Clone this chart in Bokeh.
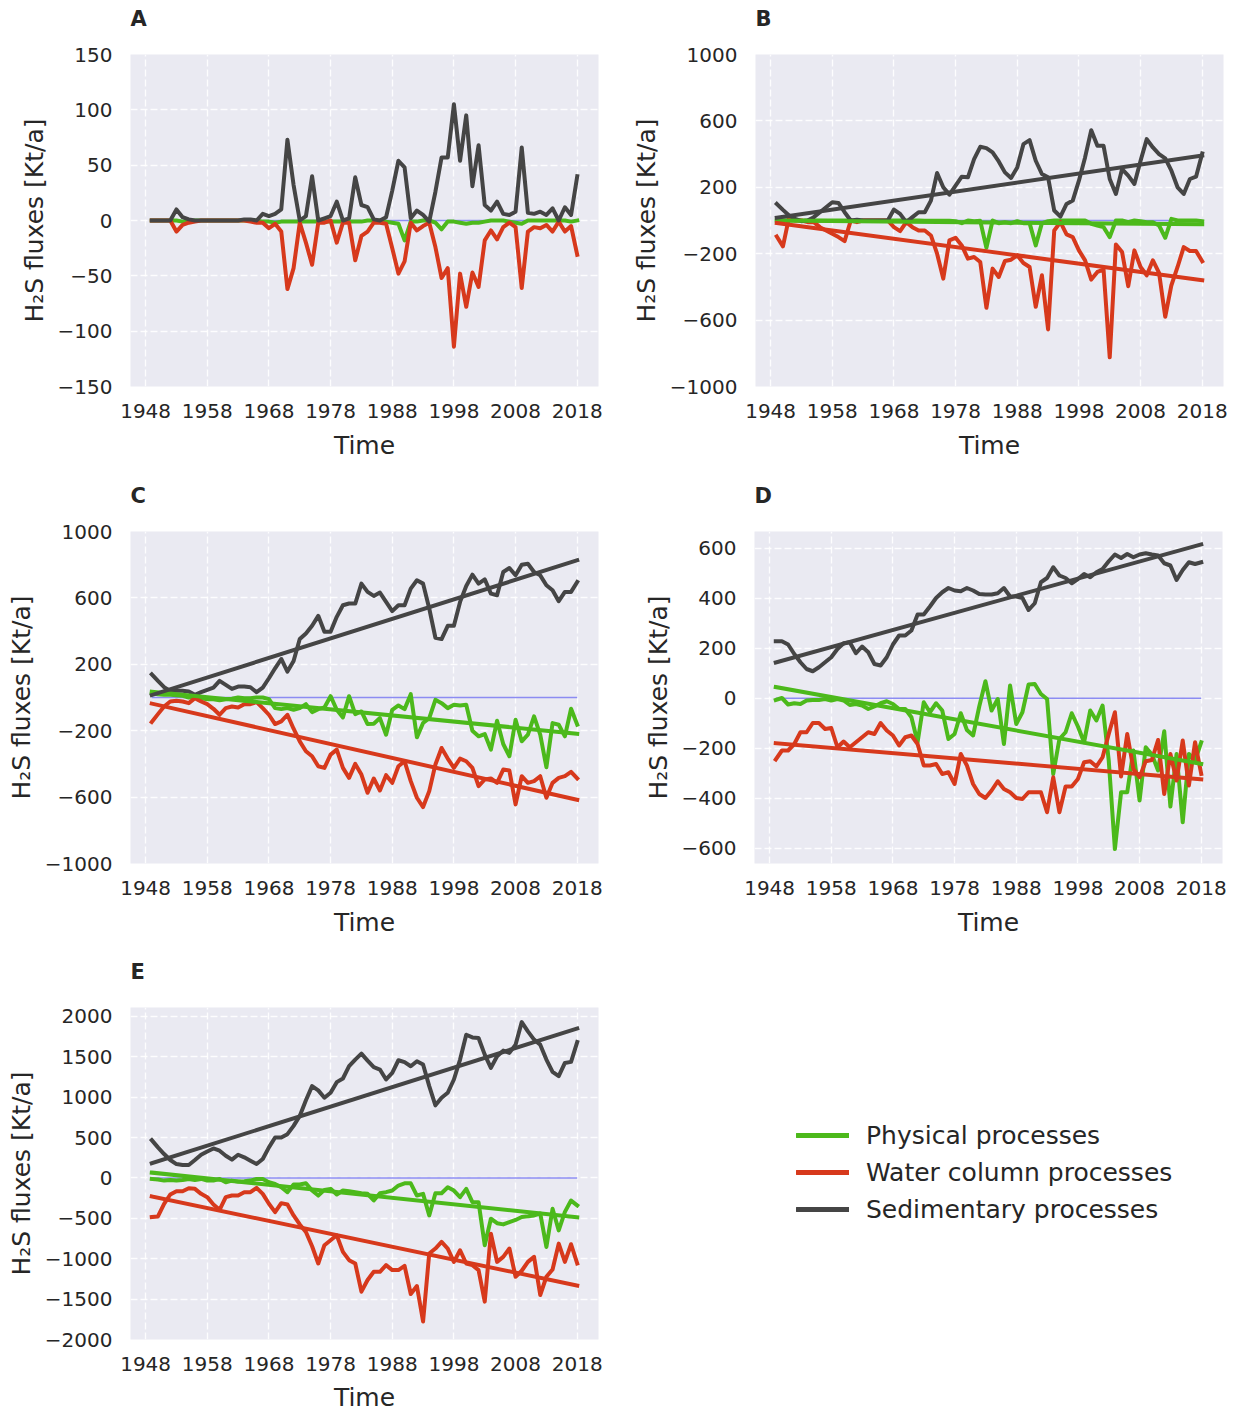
import numpy as np
from bokeh.plotting import figure
from bokeh.layouts import column, row
from bokeh.models import FixedTicker, Legend, LegendItem, Title
from bokeh.embed import file_html
from bokeh.resources import INLINE

# ---------------- data ----------------
years = list(range(1949, 2019))
x_ticks = [1948, 1958, 1968, 1978, 1988, 1998, 2008, 2018]
x_tick_labels = ["1948", "1958", "1968", "1978", "1988", "1998", "2008", "2018"]
x_label = "Time"
y_label = "H\u2082S fluxes [Kt/a]"
series_names = ["Physical processes", "Water column processes", "Sedimentary processes"]
zero_level = 0

phys_A = [0, 0, 0, 0, 0, -1, 0, 0, 0, 0,
          0, 0, 0, 0, 0, 0, 0, 0, -1, -1,
          -2, -1, -1, -1, -1, -1, -1, -1, -1, -1,
          -1, -1, -1, -1, -1, 0, 0, 0, -1, -2,
          -3, -18, -1, -1, 0, 0, -2, -8, -1, -1,
          -2, -3, -2, -2, -1, 0, 0, 0, -1, -2,
          -3, 0, 0, 0, 0, 0, 0, 0, -1, 0]
water_A = [0, 0, 0, 0, -10, -4, -2, -1, 0, 0,
           0, 0, 0, 0, 0, 0, -1, -2, -2, -7,
           -3, -10, -62, -43, -2, -20, -40, -2, -2, 0,
           -20, -2, -2, -36, -14, -10, -2, -2, -3, -25,
           -48, -37, -2, -9, -5, -2, -24, -52, -43, -114,
           -48, -78, -47, -60, -18, -9, -17, -6, -2, -6,
           -61, -10, -6, -7, -4, -10, -1, -10, -5, -31]
sed_A = [0, 0, 0, 0, 10, 3, 1, 0, 0, 0,
         0, 0, 0, 0, 0, 1, 1, 0, 6, 4,
         6, 10, 73, 32, 0, 4, 40, 0, 2, 4,
         17, 0, 2, 39, 14, 12, 1, 0, 3, 27,
         54, 48, 2, 9, 5, -1, 26, 57, 57, 105,
         54, 95, 31, 68, 14, 9, 17, 6, 5, 8,
         66, 7, 6, 8, 5, 11, 0, 12, 5, 40]

phys_B = [0, 0, 0, 0, 0, 0, 0, 0, 0, 0,
          0, 0, 0, 0, 0, 0, 0, 0, 0, 0,
          0, 0, 0, 0, -2, -2, -2, -2, -2, -4,
          -16, 0, -4, -2, -164, 0, -16, -10, -16, -4,
          -16, -16, -150, -16, -4, 0, 0, 0, 0, 0,
          0, -20, -30, -40, -100, 0, 0, -10, 0, -4,
          -10, -10, -30, -104, 10, 0, 0, 0, 0, -4]
water_B = [-96, -156, 20, 0, 0, -10, -10, -40, -60, -80,
           -100, -124, 0, -10, 0, 0, 0, 0, 0, -40,
           -64, -10, -40, -60, -60, -90, -200, -350, -120, -104,
           -150, -230, -220, -250, -526, -290, -340, -244, -236, -210,
           -256, -280, -520, -330, -656, -60, -10, -84, -100, -180,
           -240, -356, -310, -296, -824, -144, -190, -396, -180, -280,
           -330, -240, -316, -580, -390, -280, -160, -184, -184, -246]
sed_B = [100, 64, 30, 10, -4, 0, 20, 50, 80, 110,
         106, 50, 0, 4, 0, 0, 0, 0, 0, 66,
         40, -10, 20, 50, 50, 120, 286, 200, 156, 210,
         264, 260, 370, 444, 436, 410, 356, 290, 256, 320,
         460, 484, 360, 280, 260, 60, 24, 100, 120, 240,
         380, 544, 450, 450, 250, 160, 310, 270, 220, 360,
         490, 440, 400, 374, 300, 200, 160, 250, 264, 404]

phys_C = [26, 20, 16, 16, 14, 10, 0, 4, -4, -10,
          -10, -16, -10, -8, 0, -4, -4, 0, 0, -10,
          -64, -70, -64, -74, -64, -40, -88, -70, -60, 8,
          -74, -120, 8, -100, -84, -160, -158, -124, -224, -74,
          -48, -70, 20, -240, -154, -124, -14, -34, -64, -44,
          -48, -44, -200, -234, -220, -314, -140, -280, -354, -134,
          -264, -224, -114, -224, -420, -154, -164, -234, -68, -164]
water_C = [-148, -100, -54, -24, -20, -24, -34, -4, -24, -40,
           -68, -104, -64, -54, -60, -40, -40, -28, -64, -104,
           -160, -144, -104, -188, -264, -324, -354, -414, -424, -344,
           -314, -424, -484, -400, -464, -574, -488, -560, -468, -514,
           -414, -384, -504, -604, -660, -564, -404, -304, -368, -424,
           -368, -384, -424, -534, -494, -488, -514, -434, -440, -644,
           -474, -514, -504, -474, -604, -514, -484, -474, -448, -488]
sed_C = [140, 100, 62, 40, 40, 40, 36, 16, 32, 46,
         60, 100, 76, 52, 66, 66, 62, 32, 60, 116,
         176, 232, 156, 220, 352, 386, 432, 492, 396, 396,
         486, 556, 566, 566, 686, 636, 612, 632, 576, 520,
         556, 556, 656, 706, 686, 536, 360, 352, 432, 432,
         576, 672, 740, 686, 712, 626, 616, 756, 780, 736,
         800, 806, 756, 736, 676, 646, 580, 636, 636, 696]

phys_D = [-7, 1, -25, -20, -23, -9, -7, -7, -3, -9,
          -3, -9, -27, -23, -29, -43, -33, -20, -12, -23,
          -43, -43, -76, -176, -16, -56, -20, -49, -163, -143,
          -60, -127, -149, -33, 68, -49, -3, -183, 51, -103,
          -56, 55, 57, 17, -3, -303, -163, -136, -60, -113,
          -176, -49, -89, -29, -249, -603, -376, -376, -209, -409,
          -196, -225, -289, -132, -433, -223, -496, -223, -249, -176]
water_D = [-245, -209, -209, -183, -136, -136, -99, -99, -123, -119,
           -196, -173, -196, -176, -156, -136, -143, -99, -129, -149,
           -189, -156, -149, -183, -269, -269, -263, -303, -296, -343,
           -223, -269, -343, -383, -399, -369, -332, -363, -376, -399,
           -403, -376, -376, -376, -456, -316, -456, -353, -353, -323,
           -256, -252, -273, -236, -143, -56, -313, -143, -283, -316,
           -252, -247, -167, -383, -223, -329, -169, -349, -176, -303]
sed_D = [228, 228, 215, 177, 144, 117, 108, 124, 144, 164,
         197, 220, 224, 180, 207, 184, 137, 131, 164, 215,
         251, 251, 271, 335, 335, 367, 401, 424, 441, 431,
         428, 441, 431, 417, 415, 415, 420, 441, 407, 407,
         401, 353, 380, 464, 481, 524, 491, 481, 460, 477,
         497, 484, 504, 517, 548, 575, 561, 577, 564, 575,
         580, 575, 571, 540, 531, 473, 513, 544, 537, 544]

phys_E = [-12, -20, -33, -25, -33, -25, -12, -25, -12, -33,
          -33, -12, -53, -33, -45, -41, -33, -12, -12, -53,
          -74, -115, -176, -82, -82, -66, -156, -218, -148, -135,
          -205, -156, -164, -176, -189, -197, -279, -189, -176, -156,
          -94, -66, -66, -218, -197, -464, -189, -189, -115, -156,
          -238, -135, -300, -300, -833, -505, -560, -575, -546, -520,
          -484, -475, -464, -440, -854, -382, -649, -420, -280, -340]
water_E = [-484, -476, -320, -205, -164, -164, -127, -135, -197, -238,
           -328, -394, -238, -217, -217, -176, -176, -123, -197, -320,
           -423, -312, -328, -464, -575, -669, -846, -1059, -833, -772,
           -710, -915, -1018, -1059, -1408, -1264, -1162, -1162, -1080, -1141,
           -1141, -1088, -1437, -1338, -1777, -936, -874, -792, -874, -1039,
           -895, -1059, -1080, -1141, -1531, -690, -1039, -977, -874, -1223,
           -1149, -1039, -977, -1449, -1223, -1133, -813, -1039, -821, -1059]
sed_E = [468, 378, 296, 222, 172, 160, 160, 222, 287, 328,
         365, 337, 275, 226, 287, 255, 213, 172, 234, 378,
         501, 501, 542, 644, 768, 961, 1137, 1084, 993, 1055,
         1186, 1231, 1383, 1465, 1539, 1453, 1371, 1342, 1219, 1301,
         1457, 1433, 1383, 1445, 1404, 1137, 899, 993, 1055, 1219,
         1465, 1773, 1740, 1732, 1527, 1363, 1506, 1576, 1548, 1650,
         1929, 1814, 1712, 1650, 1465, 1314, 1260, 1424, 1437, 1683]

y_ticks_A = [-150, -100, -50, 0, 50, 100, 150]
y_tick_labels_A = ["\u2212150", "\u2212100", "\u221250", "0", "50", "100", "150"]
y_ticks_BC = [-1000, -600, -200, 200, 600, 1000]
y_tick_labels_BC = ["\u22121000", "\u2212600", "\u2212200", "200", "600", "1000"]
y_ticks_D = [-600, -400, -200, 0, 200, 400, 600]
y_tick_labels_D = ["\u2212600", "\u2212400", "\u2212200", "0", "200", "400", "600"]
y_ticks_E = [-2000, -1500, -1000, -500, 0, 500, 1000, 1500, 2000]
y_tick_labels_E = ["\u22122000", "\u22121500", "\u22121000", "\u2212500", "0",
                   "500", "1000", "1500", "2000"]

# ---------------- style ----------------
FONT = "DejaVu Sans"
TXT = "#262626"
COLORS = ["#4cb91b", "#d7391c", "#454545"]
BG = "#EAEAF2"
X_RANGE = (1945.55, 2021.45)


def make_panel(letter, series, y_range, yticks, ylabels, trend, left, right, top, bottom,
               x_std=17, x_lab_std=10):
    p = figure(frame_width=468, frame_height=332, x_range=X_RANGE, y_range=y_range,
               output_backend="svg", toolbar_location=None, title=letter,
               min_border_left=left, min_border_right=right,
               min_border_top=top, min_border_bottom=bottom,
               background_fill_color=BG, border_fill_color="white",
               outline_line_color=None)
    p.title.text_font = FONT
    p.title.text_font_size = "21px"
    p.title.text_font_style = "bold"
    p.title.text_color = TXT
    p.title.align = "left"
    p.title.standoff = 4
    # spacer between the panel letter and the frame
    p.add_layout(Title(text=" ", text_font_size="1px", standoff=19), "above")

    p.xaxis.ticker = FixedTicker(ticks=x_ticks)
    p.xaxis.major_label_overrides = dict(zip(x_ticks, x_tick_labels))
    p.yaxis.ticker = FixedTicker(ticks=yticks)
    p.yaxis.major_label_overrides = dict(zip(yticks, ylabels))
    for ax in (p.xaxis[0], p.yaxis[0]):
        ax.axis_line_color = None
        ax.major_tick_line_color = None
        ax.minor_tick_line_color = None
        ax.major_tick_out = 0
        ax.major_tick_in = 0
        ax.major_label_text_font = FONT
        ax.major_label_text_font_size = "20px"
        ax.major_label_text_color = TXT
        ax.axis_label_text_font = FONT
        ax.axis_label_text_font_size = "25px"
        ax.axis_label_text_font_style = "normal"
        ax.axis_label_text_color = TXT
    p.xaxis.axis_label = x_label
    p.yaxis.axis_label = y_label
    p.xaxis.major_label_standoff = x_std
    p.xaxis.axis_label_standoff = x_lab_std
    p.yaxis.major_label_standoff = 18
    p.yaxis.axis_label_standoff = 6

    p.grid.grid_line_color = "white"
    p.grid.grid_line_dash = "7 3"
    p.grid.grid_line_width = 1.4
    p.grid.grid_line_alpha = 0.9

    p.line([years[0], years[-1]], [zero_level, zero_level], line_color="#8c8cf2",
           line_width=1.5)
    for vals, col in zip(series, COLORS):
        p.line(years, vals, line_color=col, line_width=4, line_cap="square",
               line_join="round")
    if trend:
        xs = np.array(years, dtype=float)
        for vals, col in zip(series, COLORS):
            k, b = np.polyfit(xs, np.array(vals, dtype=float), 1)
            ends = np.array([xs[0], xs[-1]])
            p.line(ends, k * ends + b, line_color=col, line_width=4, line_cap="square")
    return p


pA = make_panel("A", [phys_A, water_A, sed_A], (-150, 150), y_ticks_A, y_tick_labels_A,
                False, 130, 30, 54, 78)
pB = make_panel("B", [phys_B, water_B, sed_B], (-1000, 1000), y_ticks_BC, y_tick_labels_BC,
                True, 126, 10, 54, 78)
pC = make_panel("C", [phys_C, water_C, sed_C], (-1000, 1000), y_ticks_BC, y_tick_labels_BC,
                True, 130, 30, 67, 77)
pD = make_panel("D", [phys_D, water_D, sed_D], (-661, 667), y_ticks_D, y_tick_labels_D,
                True, 126, 10, 67, 77)
pE = make_panel("E", [phys_E, water_E, sed_E], (-2000, 2110), y_ticks_E, y_tick_labels_E,
                True, 130, 30, 67, 72, x_std=17, x_lab_std=9)

# legend panel (its frame is aligned with panel E's frame by the row layout)
pF = figure(width=604, height=471, min_border=0, x_range=(0, 1), y_range=(0, 1),
            x_axis_type=None, y_axis_type=None, outline_line_color=None,
            toolbar_location=None, output_backend="svg", background_fill_color="white",
            border_fill_color="white")
pF.grid.visible = False
items = []
for name, col in zip(series_names, COLORS):
    # legend proxies: drawn outside the (0, 1) view of this empty panel
    r = pF.line(years[:2], [zero_level, zero_level], line_color=col, line_width=4.8,
                line_cap="round")
    items.append(LegendItem(label=name, renderers=[r]))
leg = Legend(items=items, location=(168, 112), glyph_width=53, glyph_height=30,
             label_standoff=17, spacing=7, padding=0, margin=0,
             border_line_color=None, background_fill_alpha=0,
             label_text_font=FONT, label_text_font_size="25px", label_text_color=TXT)
pF.add_layout(leg)

layout = column(row(pA, pB), row(pC, pD), row(pE, pF))
open("out.html", "w").write(file_html(layout, INLINE))
